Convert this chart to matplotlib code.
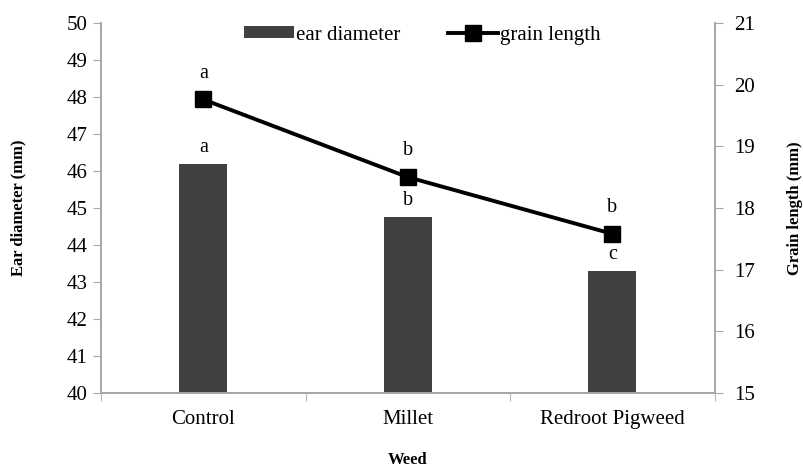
import matplotlib.pyplot as plt
import numpy as np

# data
weeds = ["Control", "Millet", "Redroot Pigweed"]
ear_diameter = [46.2, 44.75, 43.3]
grain_length = [19.76, 18.5, 17.58]
ear_letters = ["a", "b", "c"]
grain_letters = ["a", "b", "b"]

plt.rcParams['font.family'] = ['Liberation Serif', 'DejaVu Serif']
grey = "#a6a6a6"

fig = plt.figure(figsize=(8.04, 4.68), dpi=100)
ax = fig.add_axes([0.1256, 0.1603, 0.7634, 0.7906])
ax2 = ax.twinx()

x = np.arange(len(weeds))
bars = ax.bar(x, ear_diameter, width=0.235, color="#404040", label="ear diameter", zorder=2)
line, = ax2.plot(x, grain_length, color="black", lw=2.8, marker="s", markersize=11.5,
                 label="grain length", zorder=3)

ax.set_xlim(-0.5, 2.5)
ax.set_ylim(40, 50)
ax.set_yticks(range(40, 51))
ax2.set_ylim(15, 21)
ax2.set_yticks(range(15, 22))

# letters
for xi, v, t in zip(x, ear_diameter, ear_letters):
    ax.annotate(t, (xi, v), xytext=(0, 5), textcoords="offset points",
                ha="center", va="bottom", fontsize=14.5)
for xi, v, t in zip(x, grain_length, grain_letters):
    ax2.annotate(t, (xi, v), xytext=(0, 12), textcoords="offset points",
                 ha="center", va="bottom", fontsize=14.5)

# x ticks between categories
ax.set_xticks(x)
ax.set_xticklabels(weeds, fontsize=15)
ax.tick_params(axis="x", which="major", length=0, pad=12)
ax.set_xticks([-0.5, 0.5, 1.5, 2.5], minor=True)
ax.tick_params(axis="x", which="minor", length=6, color=grey, direction="out")

ax.tick_params(axis="y", labelsize=15, length=6, color=grey, direction="out")
ax2.tick_params(axis="y", labelsize=15, length=6, color=grey, direction="out", pad=8)

for a in (ax, ax2):
    a.spines["top"].set_visible(False)
    for s in ("left", "right", "bottom"):
        a.spines[s].set_color(grey)
        a.spines[s].set_linewidth(1.2)

ax.set_ylabel("Ear diameter (mm)", fontsize=12, fontweight="bold", va="center")
ax.yaxis.set_label_coords(-0.135, 0.5)
ax2.set_ylabel("Grain length (mm)", fontsize=12, fontweight="bold", va="center")
ax2.yaxis.set_label_coords(1.13, 0.5)
ax.set_xlabel("Weed", fontsize=12, fontweight="bold", va="center")
ax.xaxis.set_label_coords(0.5, -0.181)

fig.legend([bars, line], ["ear diameter", "grain length"], loc="upper center",
           bbox_to_anchor=(0.525, 0.985), ncol=2, frameon=False, fontsize=15,
           handlelength=2.4, handleheight=0.5, handletextpad=0.1, columnspacing=2.3)

fig.savefig("out.png", dpi=100)
